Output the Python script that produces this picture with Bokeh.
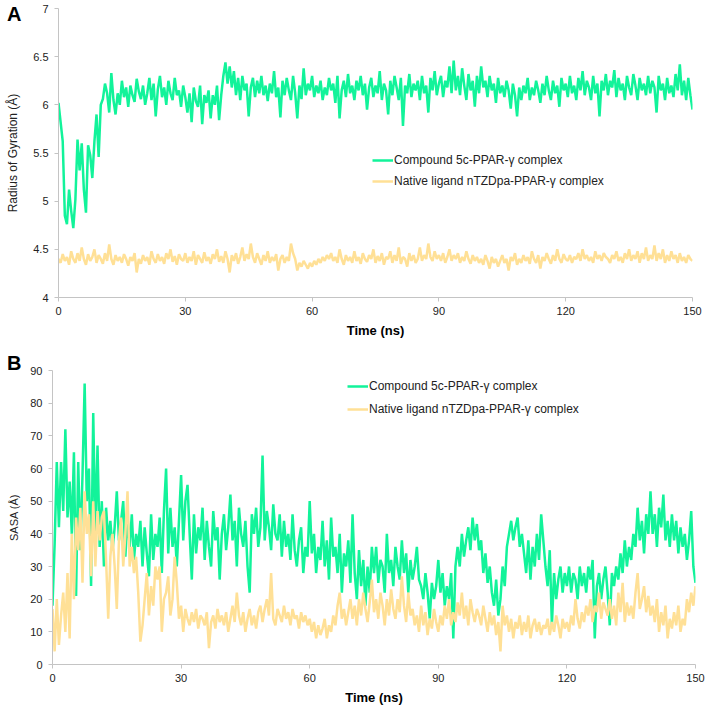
import numpy as np
from bokeh.plotting import figure
from bokeh.layouts import column
from bokeh.models import ColumnDataSource, Legend, LegendItem, FixedTicker, Div
from bokeh.embed import file_html
from bokeh.resources import INLINE

# ---------------- data (0.5 ns sampling, 0..150 ns) ----------------
rg_5c = [
    6.02,5.82,5.62,4.85,4.76,5.12,4.9,4.72,5.02,5.64,
    5.32,5.6,5.12,4.88,5.58,5.48,5.24,5.62,5.9,5.46,
    6.0,6.06,6.22,6.12,5.92,6.33,6.05,5.9,6.12,6.0,
    6.25,6.08,6.18,5.98,6.2,6.1,6.03,6.27,6.14,6.06,
    6.2,6.0,6.12,6.28,6.05,6.22,5.88,6.16,6.3,6.08,
    6.18,6.0,6.25,6.12,6.05,6.28,6.1,6.15,5.98,6.2,
    6.08,5.92,6.12,5.82,6.18,6.04,5.98,6.2,5.8,6.1,
    6.02,6.15,5.86,6.1,6.0,6.2,5.84,6.1,6.3,6.44,
    6.22,6.4,6.18,6.35,6.1,6.28,6.05,6.3,6.15,6.22,
    5.88,6.18,6.28,6.08,6.25,6.12,6.3,6.1,6.2,6.04,
    6.22,6.12,6.35,6.08,6.18,5.87,6.25,6.1,6.28,6.15,
    6.05,6.3,6.12,5.86,6.2,6.06,6.38,6.1,6.22,6.15,
    6.3,6.08,6.2,6.12,6.25,6.05,6.18,6.1,6.28,6.15,
    6.22,6.02,6.3,5.86,6.15,6.25,6.08,6.32,6.12,6.2,
    6.05,6.25,6.15,6.3,6.1,6.22,5.95,6.18,6.28,6.08,
    6.2,6.12,6.35,6.05,6.22,6.15,5.9,6.25,6.1,6.3,
    6.18,6.05,6.28,5.78,6.2,6.12,6.32,6.08,6.22,6.15,
    6.25,6.05,6.3,6.12,6.2,5.92,6.28,6.15,6.35,6.1,
    6.22,6.3,6.08,6.25,6.18,6.4,6.12,6.46,6.15,6.3,
    6.1,6.38,6.2,6.05,6.32,6.15,6.25,5.98,6.3,6.12,
    6.4,6.18,6.25,6.08,6.3,6.15,6.22,6.02,6.28,6.12,
    6.2,6.08,6.25,6.15,5.96,6.22,6.1,5.88,6.18,6.05,
    6.2,6.12,6.28,6.05,6.18,6.1,6.25,6.15,6.02,6.22,
    6.1,6.3,6.15,6.05,6.25,6.12,6.2,5.98,6.28,6.15,
    6.22,6.08,6.3,6.12,6.2,6.05,6.28,6.15,6.35,6.1,
    6.25,6.18,6.05,6.3,6.12,6.22,5.88,6.25,6.15,6.32,
    6.1,6.25,6.18,6.36,6.08,6.28,6.15,6.22,6.05,6.3,
    6.18,6.1,6.32,6.2,6.05,6.28,6.15,6.22,6.1,6.3,
    6.12,6.25,6.18,5.92,6.3,6.15,6.22,6.05,6.28,6.12,
    6.2,6.08,6.32,6.15,6.42,6.1,6.25,6.05,6.28,6.1,
    5.95,
]

rg_native = [
    4.4,4.36,4.45,4.38,4.42,4.34,4.48,4.4,4.36,4.46,
    4.38,4.52,4.4,4.34,4.45,4.38,4.42,4.5,4.36,4.44,
    4.4,4.35,4.46,4.38,4.55,4.4,4.34,4.44,4.38,4.42,
    4.36,4.45,4.4,4.33,4.42,4.38,4.46,4.26,4.4,4.35,
    4.44,4.38,4.42,4.34,4.48,4.4,4.36,4.45,4.38,4.42,
    4.35,4.46,4.4,4.5,4.37,4.43,4.34,4.45,4.4,4.38,
    4.46,4.36,4.42,4.38,4.48,4.34,4.44,4.4,4.36,4.47,
    4.38,4.42,4.35,4.45,4.4,4.5,4.37,4.43,4.36,4.48,
    4.4,4.26,4.44,4.38,4.46,4.35,4.42,4.52,4.38,4.45,
    4.4,4.56,4.42,4.36,4.46,4.4,4.34,4.44,4.38,4.48,
    4.36,4.42,4.38,4.45,4.28,4.4,4.44,4.36,4.42,4.38,
    4.56,4.46,4.4,4.28,4.36,4.32,4.38,4.34,4.3,4.36,
    4.32,4.38,4.34,4.4,4.36,4.42,4.38,4.44,4.4,4.46,
    4.38,4.42,4.36,4.5,4.4,4.34,4.44,4.38,4.42,4.36,
    4.48,4.38,4.42,4.35,4.46,4.4,4.37,4.44,4.4,4.5,
    4.36,4.43,4.38,4.46,4.34,4.42,4.4,4.48,4.36,4.44,
    4.38,4.52,4.35,4.42,4.4,4.32,4.46,4.38,4.44,4.36,
    4.4,4.52,4.38,4.44,4.4,4.56,4.42,4.38,4.48,4.4,
    4.44,4.38,4.46,4.36,4.42,4.5,4.38,4.44,4.4,4.46,
    4.36,4.42,4.38,4.48,4.4,4.35,4.44,4.38,4.42,4.36,
    4.4,4.34,4.44,4.38,4.3,4.42,4.36,4.4,4.32,4.38,
    4.44,4.36,4.4,4.28,4.42,4.38,4.46,4.34,4.4,4.36,
    4.44,4.38,4.42,4.35,4.48,4.4,4.36,4.44,4.3,4.42,
    4.38,4.46,4.4,4.35,4.44,4.38,4.5,4.4,4.36,4.45,
    4.4,4.38,4.44,4.36,4.42,4.4,4.46,4.38,4.5,4.4,
    4.44,4.38,4.42,4.36,4.48,4.4,4.44,4.38,4.46,4.42,
    4.4,4.36,4.44,4.4,4.48,4.38,4.42,4.36,4.46,4.4,
    4.5,4.38,4.44,4.4,4.48,4.36,4.46,4.4,4.52,4.38,
    4.44,4.4,4.54,4.38,4.46,4.4,4.5,4.36,4.44,4.38,
    4.48,4.4,4.44,4.36,4.46,4.38,4.42,4.36,4.44,4.4,
    4.38,
]

sasa_5c = [
    18,37,62,42,62,47,72,45,56,40,
    65,21,62,35,58,86,50,60,24,77,
    40,67,36,50,30,48,38,44,35,42,
    53,38,44,50,33,45,36,46,32,40,
    36,44,30,42,34,27,46,32,40,36,
    45,28,47,60,34,48,36,42,30,44,
    58,38,50,55,40,26,46,34,42,38,
    48,32,44,36,30,47,38,42,26,40,
    46,35,42,52,38,44,30,48,40,36,
    44,30,22,46,40,48,36,42,64,38,
    47,42,35,49,40,38,46,33,44,36,
    40,32,46,35,30,38,42,28,36,33,
    50,34,40,28,36,32,44,30,38,26,
    45,33,36,28,40,22,34,30,38,25,
    46,28,20,35,24,32,18,30,22,36,
    28,36,25,32,30,22,40,28,32,24,
    36,30,26,38,28,34,22,32,26,30,
    36,26,24,20,28,22,14,25,20,24,
    32,22,28,18,24,20,28,8,30,36,
    30,40,33,38,42,35,45,38,43,35,
    38,28,34,25,30,22,18,26,15,20,
    30,24,36,40,44,38,42,45,36,40,
    34,28,38,26,36,30,40,32,46,38,
    30,24,35,12,28,20,26,30,22,28,
    24,30,22,28,26,20,30,24,28,22,
    30,26,32,8,24,28,20,26,30,22,
    12,28,24,30,26,34,28,38,30,36,
    32,40,36,48,38,44,34,46,40,53,
    40,46,36,48,42,52,38,44,36,46,
    38,44,34,42,36,40,32,38,47,30,
    25,
]

sasa_native = [
    17,4,20,6,15,22,10,28,8,40,
    20,45,35,48,25,53,40,46,27,50,
    30,47,38,45,47,32,14,33,40,30,
    17,38,45,30,40,53,30,36,28,33,
    22,7,12,20,28,15,24,18,30,26,
    30,10,20,22,27,15,20,33,25,14,
    18,10,17,14,12,16,13,17,11,15,
    14,12,16,5,13,15,11,17,13,15,
    12,16,10,14,18,13,22,15,12,16,
    10,14,17,12,15,11,16,18,13,17,
    20,15,28,14,12,17,15,13,18,14,
    16,12,17,14,15,11,16,13,15,12,
    14,10,13,8,12,9,11,14,8,12,
    10,15,12,18,22,14,17,12,16,20,
    14,18,12,20,15,22,17,13,19,26,
    16,20,14,22,18,12,20,15,23,17,
    14,20,16,27,18,13,22,15,17,12,
    15,10,18,12,16,9,14,11,17,13,
    10,15,12,18,14,20,12,16,13,19,
    15,22,14,18,12,20,16,13,17,15,
    12,18,14,10,16,12,15,9,13,4,
    18,12,15,10,14,8,13,11,15,9,
    13,10,15,8,12,14,10,13,9,12,
    11,14,9,13,10,15,12,8,14,11,
    13,10,15,12,20,14,11,16,13,18,
    15,20,13,18,16,22,14,19,17,15,
    20,14,18,12,22,16,25,13,19,15,
    18,14,22,28,17,20,24,16,21,15,
    18,13,20,10,16,12,18,8,14,11,
    16,12,18,10,14,12,20,16,22,18,
    24,
]

x_ticks = [0, 30, 60, 90, 120, 150]
rg_ticks = [4, 4.5, 5, 5.5, 6, 6.5, 7]
rg_tick_labels = ["4", "4.5", "5", "5.5", "6", "6.5", "7"]
sasa_ticks = [0, 10, 20, 30, 40, 50, 60, 70, 80, 90]

series_names = ["Compound 5c-PPAR-\u03b3 complex", "Native ligand nTZDpa-PPAR-\u03b3 complex"]
panel_letters = ["A", "B"]
x_title = "Time (ns)"

GREEN = "#12F39A"
YELLOW = "#FFE096"
FONT = "Liberation Sans"
TXT = "#222222"


def style(p, ylabel, ylabel_size, ystandoff):
    p.outline_line_color = None
    p.border_fill_alpha = 0
    p.background_fill_alpha = 0
    p.xgrid.grid_line_color = None
    p.ygrid.grid_line_color = None
    for ax in (p.xaxis[0], p.yaxis[0]):
        ax.axis_line_color = "#c4c4c4"
        ax.major_tick_line_color = "#c4c4c4"
        ax.major_tick_out = 4
        ax.major_tick_in = 0
        ax.minor_tick_line_color = None
        ax.major_label_text_font = FONT
        ax.major_label_text_font_size = "11px"
        ax.major_label_text_color = TXT
    p.xaxis.ticker = FixedTicker(ticks=x_ticks)
    p.xaxis.axis_label = x_title
    p.xaxis.axis_label_text_font = FONT
    p.xaxis.axis_label_text_font_style = "bold"
    p.xaxis.axis_label_text_font_size = "13px"
    p.xaxis.axis_label_text_color = "#000000"
    p.xaxis.axis_label_standoff = 5
    p.xaxis.major_label_standoff = 5
    p.yaxis.axis_label = ylabel
    p.yaxis.axis_label_text_font = FONT
    p.yaxis.axis_label_text_font_style = "normal"
    p.yaxis.axis_label_text_font_size = ylabel_size
    p.yaxis.axis_label_text_color = TXT
    p.yaxis.axis_label_standoff = ystandoff
    p.yaxis.major_label_standoff = 6


def add_legend(p, r1, r2, loc, spacing):
    leg = Legend(items=[LegendItem(label=series_names[0], renderers=[r1]),
                        LegendItem(label=series_names[1], renderers=[r2])],
                 location=loc)
    leg.border_line_alpha = 0
    leg.background_fill_alpha = 0
    leg.padding = 0
    leg.margin = 0
    leg.glyph_width = 21
    leg.glyph_height = 20
    leg.label_height = 20
    leg.spacing = spacing
    leg.label_standoff = 1
    leg.label_text_font = FONT
    leg.label_text_font_size = "12px"
    leg.label_text_color = TXT
    p.add_layout(leg)


# panel letters: one thin Div on top whose content overflows over the (transparent) figures
span_style = ("position:absolute; font-family:'Liberation Sans'; font-weight:bold; "
              "font-size:20px; line-height:23px; color:#000000; white-space:nowrap;")
letters_html = (
    '<div style="position:relative; width:0px; height:0px;">'
    f'<span style="{span_style} left:7px; top:-9px;">{panel_letters[0]}</span>'
    f'<span style="{span_style} left:7px; top:340px;">{panel_letters[1]}</span>'
    '</div>'
)
letters = Div(text=letters_html, width=708, height=1,
              styles={"overflow": "visible", "z-index": "10", "margin": "0px", "padding": "0px"})

# ---------------- panel A ----------------
tA = np.linspace(0, 150, len(rg_5c))
tA2 = np.linspace(0, 150, len(rg_native))
srcA1 = ColumnDataSource(dict(t=tA, y=rg_5c))
srcA2 = ColumnDataSource(dict(t=tA2, y=rg_native))

pA = figure(width=708, height=339, x_range=(0, 150), y_range=(4, 7),
            output_backend="svg", toolbar_location=None,
            min_border_left=58, min_border_right=16, min_border_top=7, min_border_bottom=42)
rA1 = pA.line("t", "y", source=srcA1, line_color=GREEN, line_width=2.5)
rA2 = pA.line("t", "y", source=srcA2, line_color=YELLOW, line_width=2.5)
style(pA, "Radius of Gyration (\u00c5)", "12px", 10)
pA.yaxis.ticker = FixedTicker(ticks=rg_ticks)
pA.yaxis.major_label_overrides = {k: v for k, v in zip(rg_ticks, rg_tick_labels)}
add_legend(pA, rA1, rA2, (314, 106), 1)

# ---------------- panel B ----------------
tB = np.linspace(0, 150, len(sasa_5c))
tB2 = np.linspace(0, 150, len(sasa_native))
srcB1 = ColumnDataSource(dict(t=tB, y=sasa_5c))
srcB2 = ColumnDataSource(dict(t=tB2, y=sasa_native))

pB = figure(width=708, height=368, x_range=(0, 150), y_range=(0, 90),
            output_backend="svg", toolbar_location=None,
            min_border_left=52, min_border_right=13, min_border_top=30, min_border_bottom=44)
rB1 = pB.line("t", "y", source=srcB1, line_color=GREEN, line_width=2.5)
rB2 = pB.line("t", "y", source=srcB2, line_color=YELLOW, line_width=2.5)
style(pB, "SASA (\u00c5)", "11px", 7)
pB.yaxis.ticker = FixedTicker(ticks=sasa_ticks)
add_legend(pB, rB1, rB2, (295, 245), 3)

layout = column(letters, column(pA), column(pB), spacing=0)
open("out.html", "w").write(file_html(layout, INLINE))
